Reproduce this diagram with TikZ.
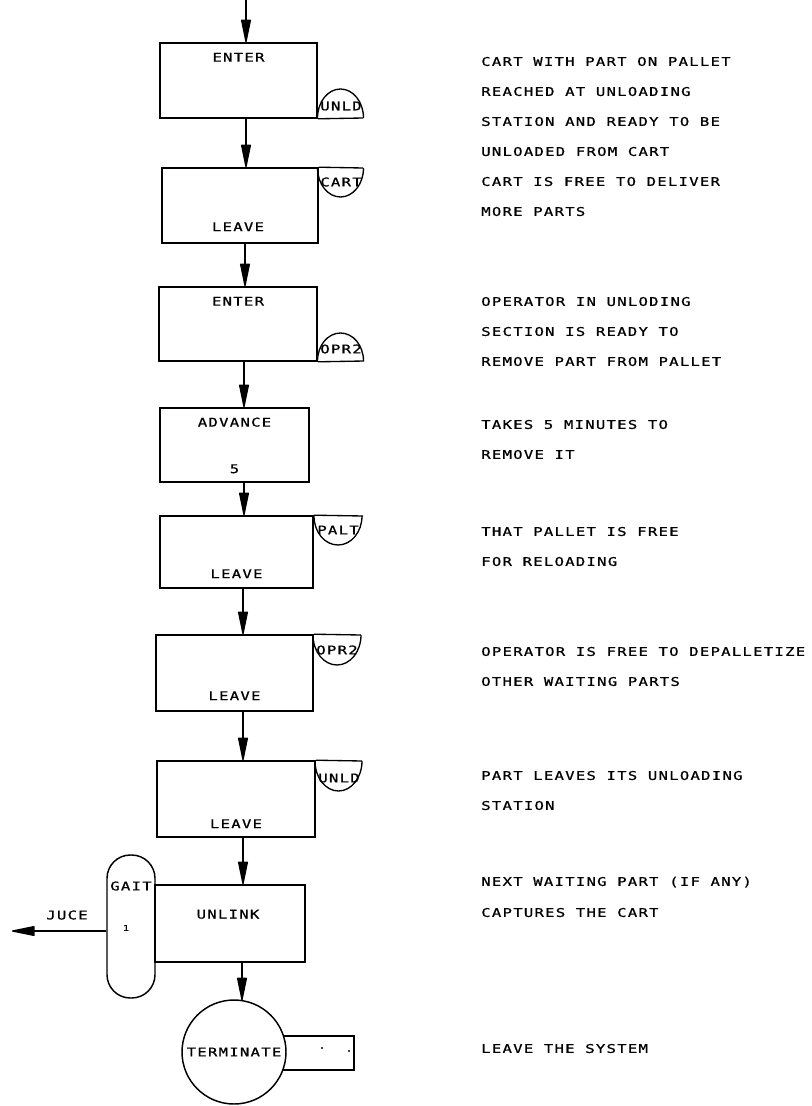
\documentclass[tikz,border=0pt]{standalone}
\usepackage{fontspec}
\newfontfamily\plotfont[FakeStretch=1.3,LetterSpace=10.5,FakeBold=0.8]{DejaVu Sans Mono}
\usetikzlibrary{arrows.meta,calc}
\begin{document}
\begin{tikzpicture}[x=0.75pt,y=-0.75pt,
  blk/.style 2 args={draw,line width=1.2pt,inner sep=0pt,minimum width=#1*0.75pt,minimum height=#2*0.75pt},
  lbl/.style={font=\plotfont\fontsize{9}{10}\selectfont,inner sep=0pt},
  note/.style={lbl,anchor=mid west},
  flow/.style={line width=1pt,-{Triangle[length=19pt,width=7.5pt,round]}},
  res/.style={line width=1pt}]
\useasboundingbox (0,0) rectangle (812,1106);

% blocks
\node[blk={157}{75}] (b1) at (238.5,80.5) {};
\node[blk={156}{75}] (b2) at (240,205.5) {};
\node[blk={158}{74}] (b3) at (238,324) {};
\node[blk={149}{74}] (b4) at (234.5,445) {};
\node[blk={153}{72}] (b5) at (236.5,552) {};
\node[blk={157}{76}] (b6) at (234.5,673) {};
\node[blk={158}{76}] (b7) at (236,799) {};
\node[blk={150}{77}] (b8) at (230,923.5) {};
\node[draw,line width=1.1pt,rounded corners=17.5pt,minimum width=36pt,minimum height=107.25pt,inner sep=0pt] (gait) at (131,926.5) {};
\node[draw,line width=1.1pt,minimum width=55.5pt,minimum height=25.5pt,inner sep=0pt] (slot) at (317,1053) {};
\node[draw,line width=1.1pt,circle,fill=white,minimum size=78pt,inner sep=0pt,lbl] (term) at (234,1052) {TERMINATE};

% block labels
\node[lbl] (t1) at ($(b1.north)+(0,15)$) {ENTER};
\node[lbl] (t2) at ($(b2.south)+(-2,-17)$) {LEAVE};
\node[lbl] (t3) at ($(b3.north)+(0,15)$) {ENTER};
\node[lbl] (t4) at ($(b4.north)+(0,15)$) {ADVANCE};
\node[lbl] (t4b) at ($(b4.south)+(0,-14)$) {5};
\node[lbl] (t5) at ($(b5.south)+(0,-15)$) {LEAVE};
\node[lbl] (t6) at ($(b6.south)+(0,-16)$) {LEAVE};
\node[lbl] (t7) at ($(b7.south)+(0,-14)$) {LEAVE};
\node[lbl] (t8) at ($(b8.north)+(-2,30)$) {UNLINK};
\node[lbl] (tg) at (131,886) {GAIT};
\node[lbl,font=\plotfont\fontsize{6}{7}\selectfont] (tg1) at (126,928) {1};

% resource semicircles
\draw[res] (b1.south east) -- (363,118);
\draw[res] (317.5,118) arc[start angle=180,end angle=360,x radius=23,y radius=29];
\node[lbl] (r1) at (341,106) {UNLD};
\draw[res] (b2.north east) -- (363,168);
\draw[res] (317.5,168) arc[start angle=180,end angle=0,x radius=23,y radius=29];
\node[lbl] (r2) at (341,182) {CART};
\draw[res] (b3.south east) -- (364,361);
\draw[res] (317.5,361) arc[start angle=180,end angle=360,x radius=23,y radius=28];
\node[lbl] (r3) at (341,349) {OPR2};
\draw[res] (b5.north east) -- (363,516);
\draw[res] (314,516) arc[start angle=180,end angle=0,x radius=24,y radius=29];
\node[lbl] (r5) at (338,530) {PALT};
\draw[res] (b6.north east) -- (361,635);
\draw[res] (313,635) arc[start angle=180,end angle=0,x radius=24,y radius=30];
\node[lbl] (r6) at (337,650) {OPR2};
\draw[res] (b7.north east) -- (362,761);
\draw[res] (315,761) arc[start angle=180,end angle=0,x radius=23.5,y radius=30];
\node[lbl] (r7) at (339,778) {UNLD};

% connectors
\coordinate (c0) at (246,0);
\coordinate (k1) at (246,0);
\coordinate (k2) at (245,0);
\coordinate (k3) at (244,0);
\coordinate (k4) at (243,0);
\coordinate (k8) at (242,0);
\draw[flow] (c0) -- (c0 |- b1.north);
\draw[flow] (k1 |- b1.south) -- (k1 |- b2.north);
\draw[flow] (k2 |- b2.south) -- (k2 |- b3.north);
\draw[flow] (k3 |- b3.south) -- (k3 |- b4.north);
\draw[flow] (k3 |- b4.south) -- (k3 |- b5.north);
\draw[flow] (k4 |- b5.south) -- (k4 |- b6.north);
\draw[flow] (k4 |- b6.south) -- (k4 |- b7.north);
\draw[flow] (k4 |- b7.south) -- (k4 |- b8.north);
\draw[flow] (k8 |- b8.south) -- ($(term.north)+(8,1)$);
\coordinate (juce) at (12,931);
\draw[flow] ($(gait.west)+(0,4.5)$) -- (juce);
\node[lbl] (tj) at (67,915) {JUCE};

% dots in terminate field
\fill (322,1048) circle[radius=0.8pt];
\fill (349,1051) circle[radius=0.8pt];

% notes
\node[note] (n1) at (481,63) {CART WITH PART ON PALLET};
\node[note] (n2) at (481,93) {REACHED AT UNLOADING};
\node[note] (n3) at (481,123) {STATION AND READY TO BE};
\node[note] (n4) at (481,153) {UNLOADED FROM CART};
\node[note] (n5) at (481,183) {CART IS FREE TO DELIVER};
\node[note] (n6) at (481,213) {MORE PARTS};
\node[note] (n7) at (481,303) {OPERATOR IN UNLODING};
\node[note] (n8) at (481,333) {SECTION IS READY TO};
\node[note] (n9) at (481,363) {REMOVE PART FROM PALLET};
\node[note] (n10) at (481,426) {TAKES 5 MINUTES TO};
\node[note] (n11) at (481,456) {REMOVE IT};
\node[note] (n12) at (481,533) {THAT PALLET IS FREE};
\node[note] (n13) at (481,563) {FOR RELOADING};
\node[note] (n14) at (481,653) {OPERATOR IS FREE TO DEPALLETIZE};
\node[note] (n15) at (481,683) {OTHER WAITING PARTS};
\node[note] (n16) at (481,777) {PART LEAVES ITS UNLOADING};
\node[note] (n17) at (481,807) {STATION};
\node[note] (n18) at (481,883) {NEXT WAITING PART (IF ANY)};
\node[note] (n19) at (481,914) {CAPTURES THE CART};
\node[note] (n20) at (481,1050) {LEAVE THE SYSTEM};
\end{tikzpicture}
\end{document}
